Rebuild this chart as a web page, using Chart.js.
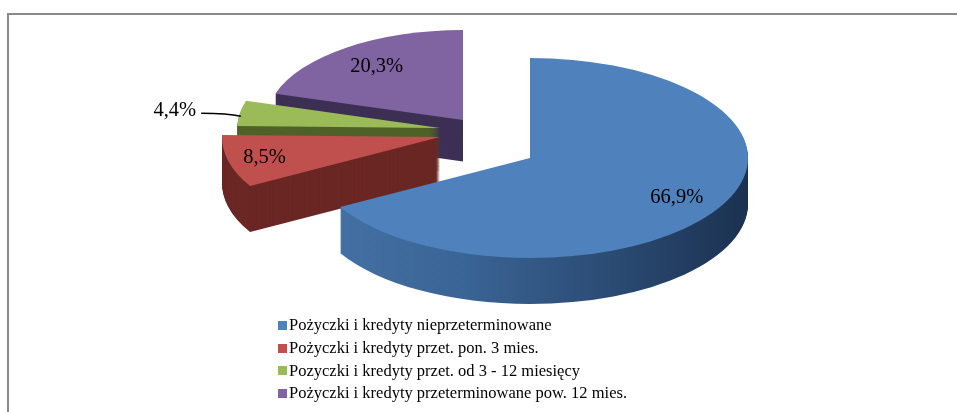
<!DOCTYPE html>
<html lang="pl">
<head>
<meta charset="utf-8">
<title>Struktura pożyczek i kredytów</title>
<script src="https://cdn.jsdelivr.net/npm/chart.js@4.4.1/dist/chart.umd.min.js"></script>
<style>
  html, body { margin: 0; padding: 0; background: #fff; }
  #wrap { position: relative; width: 957px; height: 412px; overflow: hidden; }
  #frame { position: absolute; left: 7px; top: 13px; width: 990px; height: 440px;
           border-left: 2px solid #8a8a8a; border-top: 2px solid #8a8a8a; }
  #chart-box { position: absolute; left: 0; top: 0; width: 957px; height: 412px; }
  #legend { position: absolute; left: 278px; top: 314px; color: #000;
            font-family: "Liberation Serif", "Times New Roman", serif; font-size: 16.5px; }
  #legend .row { display: flex; align-items: center; height: 22.7px; white-space: nowrap; }
  #legend .box { width: 9px; height: 9px; margin-right: 2px; }
</style>
</head>
<body>
<div id="wrap">
  <div id="frame"></div>
  <div id="chart-box"><canvas id="chart"></canvas></div>
  <div id="legend"></div>
</div>
<script>
// Dane wykresu
const categories = [
    'Pożyczki i kredyty nieprzeterminowane',
    'Pożyczki i kredyty przet. pon. 3 mies.',
    'Pozyczki i kredyty przet. od 3 - 12 miesięcy',
    'Pożyczki i kredyty przeterminowane pow. 12 mies.'
];
const shares = [66.9, 8.5, 4.4, 20.3];

// Kolory: wierzch i boki plastrów
const topColors = ['#4f81bd', '#c0504d', '#9bbb59', '#8064a2'];
const sideColors = ['#2c4f7c', '#6a2724', '#4f6228', '#3d3054'];

// Wygląd "3D" (przesunięcie i perspektywa wysuniętych plastrów)
const RADIUS = 218;
const TILT = 100 / 218;
const DEPTH = 46;
const SHIFTS = [[0, 0], [-90, -21], [-90, -30], [-67, -38]];
const SCALES = [1, 1, 0.93, 0.9];
const LABEL_POS = [0.78, 0.83, 1.0, 0.74];
const OUTSIDE_LABEL = 2;

// Format procentów z przecinkiem
const formatShare = (v) => v.toFixed(1).replace('.', ',') + '%';

// Gradient boku dużego plastra (we współrzędnych lokalnych plastra)
const blueSide = (ctx) => {
    const g = ctx.createLinearGradient(-RADIUS, 0, RADIUS, 0);
    g.addColorStop(0, '#4672a6');
    g.addColorStop(0.35, '#3a6495');
    g.addColorStop(0.7, '#2a4a72');
    g.addColorStop(1, '#1b3150');
    return g;
};

// Rysuje jeden plaster (spłaszczony) z przesunięciem w dół o "lift"
const drawSlice = (ctx, arc, i, lift, fill) => {
    const s = SCALES[i];
    ctx.save();
    ctx.translate(arc.x + SHIFTS[i][0], arc.y + SHIFTS[i][1] + lift * s);
    ctx.scale(s, s * TILT);
    ctx.beginPath();
    ctx.moveTo(0, 0);
    ctx.arc(0, 0, arc.outerRadius, arc.startAngle, arc.endAngle);
    ctx.closePath();
    ctx.fillStyle = fill;
    ctx.fill();
    ctx.restore();
};

// Etykiety procentowe
const drawLabels = (ctx, arcs) => {
    ctx.save();
    ctx.fillStyle = '#000';
    ctx.strokeStyle = '#000';
    ctx.font = '20.5px "Liberation Serif", "Times New Roman", serif';
    ctx.textAlign = 'center';
    ctx.textBaseline = 'middle';
    arcs.forEach((arc, i) => {
        const mid = (arc.startAngle + arc.endAngle) / 2;
        const r = arc.outerRadius * SCALES[i] * LABEL_POS[i];
        const px = arc.x + SHIFTS[i][0] + Math.cos(mid) * r;
        const py = arc.y + SHIFTS[i][1] + Math.sin(mid) * r * TILT;
        const text = formatShare(shares[i]);
        if (i === OUTSIDE_LABEL) {
            const lx = px - 65;
            const w = ctx.measureText(text).width;
            ctx.fillText(text, lx, py - 3);
            ctx.lineWidth = 1.6;
            ctx.beginPath();
            ctx.moveTo(lx + w / 2 + 5, py);
            ctx.quadraticCurveTo(px - 12, py, px + 1, py + 3);
            ctx.stroke();
        } else {
            ctx.fillText(text, px, py);
        }
    });
    ctx.restore();
};

const pie3d = {
    id: 'pie3d',
    beforeDatasetsDraw(chart) {
        const ctx = chart.ctx;
        const arcs = chart.getDatasetMeta(0).data;
        const order = [3, 2, 1, 0];
        // boki
        order.forEach((i) => {
            const fill = i === 0 ? blueSide(ctx) : sideColors[i];
            for (let d = DEPTH; d > 0; d--) {
                drawSlice(ctx, arcs[i], i, d, fill);
            }
        });
        // wierzch
        order.forEach((i) => drawSlice(ctx, arcs[i], i, 0, topColors[i]));
        drawLabels(ctx, arcs);
        return false;
    }
};

new Chart(document.getElementById('chart'), {
    type: 'pie',
    data: {
        labels: categories,
        datasets: [{
            data: shares,
            backgroundColor: topColors,
            borderWidth: 0
        }]
    },
    options: {
        responsive: true,
        maintainAspectRatio: false,
        animation: false,
        radius: RADIUS,
        layout: { padding: { left: 103, right: 0, top: 0, bottom: 96 } },
        plugins: {
            legend: { display: false },
            tooltip: { enabled: false }
        }
    },
    plugins: [pie3d]
});

// Legenda w HTML
const legend = document.getElementById('legend');
categories.forEach((name, i) => {
    const row = document.createElement('div');
    row.className = 'row';
    const box = document.createElement('span');
    box.className = 'box';
    box.style.background = topColors[i];
    const label = document.createElement('span');
    label.textContent = name;
    row.appendChild(box);
    row.appendChild(label);
    legend.appendChild(row);
});
</script>
</body>
</html>
